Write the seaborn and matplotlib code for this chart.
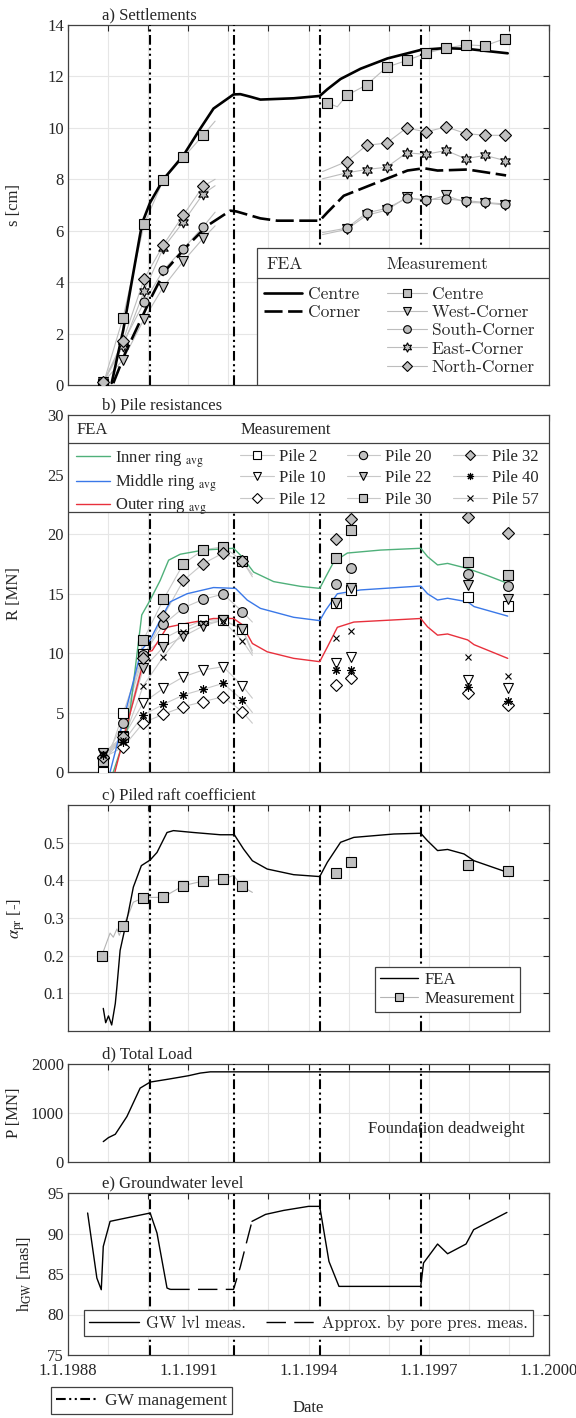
import numpy as np
import matplotlib.pyplot as plt
import matplotlib.patches as mpatches
from matplotlib.lines import Line2D
import seaborn as sns

sns.set_theme(style="whitegrid")
plt.rcParams["font.family"] = ["Liberation Serif", "DejaVu Serif"]
plt.rcParams["mathtext.fontset"] = "stix"
plt.rcParams["lines.scale_dashes"] = False

YEARS = np.arange(1988, 2001)
GW_MGMT = [1990.05, 1992.13, 1994.28, 1996.8]

# a) settlements - FEA
A_FEA_CENTRE_T = [1989.09, 1989.38, 1989.6, 1989.85, 1990.05, 1990.38, 1990.88, 1991.3, 1991.63,
                  1992.13, 1992.3, 1992.55, 1992.8, 1993.63, 1994.28, 1994.47, 1994.8, 1995.3,
                  1995.97, 1996.8, 1997.38, 1997.97, 1998.97]
A_FEA_CENTRE = [0.08, 2.15, 4.1, 6.3, 7.1, 8.0, 8.93, 9.97, 10.75, 11.3, 11.31, 11.21, 11.1, 11.15,
                11.24, 11.5, 11.9, 12.3, 12.7, 13.03, 13.1, 13.07, 12.9]
A_FEA_CORNER_T = [1989.13, 1989.43, 1990.09, 1990.4, 1990.97, 1991.47, 1992.05, 1992.2, 1992.8,
                  1993.22, 1994.28, 1994.47, 1994.88, 1995.72, 1996.47, 1996.88, 1997.22, 1997.97,
                  1998.93]
A_FEA_CORNER = [0.07, 1.25, 3.45, 4.4, 5.4, 6.19, 6.78, 6.75, 6.48, 6.39, 6.39, 6.71, 7.36, 7.88,
                8.34, 8.43, 8.34, 8.38, 8.15]

# a) settlements - measurements (first and second campaign)
A_T1 = [1988.88, 1989.37, 1989.9, 1990.38, 1990.88, 1991.37]
A_T1_END = 1991.67
A_CENTRE_1 = [0.04, 2.6, 6.26, 7.98, 8.85, 9.71]
A_WEST_1 = [0.1, 0.98, 2.57, 3.82, 4.82, 5.7]
A_SOUTH_1 = [0.1, 1.63, 3.22, 4.47, 5.3, 6.15]
A_EAST_1 = [0.1, 1.5, 3.65, 5.34, 6.35, 7.43]
A_NORTH_1 = [0.1, 1.7, 4.13, 5.45, 6.61, 7.73]
A_END_1 = [10.26, 6.19, 6.72, 7.75, 8.0]

A_T2_START = 1994.35
A_T2 = [1994.95, 1995.45, 1995.95, 1996.45, 1996.93, 1997.43, 1997.92, 1998.4, 1998.9]
A_CENTRE_2_T = [1994.45, 1994.95, 1995.45, 1995.95, 1996.45, 1996.93, 1997.43, 1997.92, 1998.4, 1998.9]
A_CENTRE_2 = [10.98, 11.26, 11.67, 12.36, 12.62, 12.9, 13.1, 13.23, 13.19, 13.47]
A_WEST_2 = [6.05, 6.6, 6.8, 7.3, 7.15, 7.37, 7.1, 7.08, 7.0]
A_SOUTH_2 = [6.1, 6.69, 6.87, 7.26, 7.21, 7.23, 7.17, 7.1, 7.04]
A_EAST_2 = [8.25, 8.38, 8.47, 9.03, 8.97, 9.12, 8.8, 8.93, 8.73]
A_NORTH_2 = [8.69, 9.32, 9.41, 10.0, 9.84, 10.04, 9.78, 9.71, 9.71]
A_START_2 = [5.85, 5.93, 8.02, 8.3]

# b) pile resistances - FEA ring averages
B_INNER_T = [1989.13, 1989.5, 1989.84, 1990.05, 1990.3, 1990.51, 1990.8, 1991.38, 1992.13, 1992.34,
             1992.63, 1993.13, 1993.8, 1994.28, 1994.43, 1994.63, 1994.97, 1995.8, 1996.8, 1996.97,
             1997.22, 1997.47, 1997.97, 1998.47, 1998.97]
B_INNER = [0.0, 3.8, 13.2, 14.45, 16.1, 17.8, 18.3, 18.65, 18.8, 18.1, 16.8, 16.0, 15.6, 15.43,
           16.4, 17.66, 18.4, 18.65, 18.8, 18.1, 17.4, 17.53, 17.1, 16.5, 15.85]
B_MIDDLE_T = [1989.05, 1989.83, 1990.05, 1990.3, 1990.55, 1990.97, 1991.63, 1992.18, 1992.47,
              1992.8, 1993.63, 1994.28, 1994.43, 1994.72, 1995.3, 1996.8, 1996.97, 1997.22, 1997.47,
              1997.97, 1998.13, 1998.97]
B_MIDDLE = [0.0, 10.25, 11.1, 12.77, 14.3, 14.98, 15.5, 15.43, 14.45, 13.75, 13.0, 12.72, 13.6,
            14.98, 15.3, 15.63, 14.98, 14.45, 14.6, 14.3, 13.9, 13.1]
B_OUTER_T = [1989.17, 1989.83, 1990.0, 1990.1, 1990.47, 1990.97, 1991.63, 1992.13, 1992.34, 1992.6,
             1992.97, 1993.63, 1994.28, 1994.47, 1994.72, 1995.13, 1996.8, 1996.97, 1997.22,
             1997.47, 1997.97, 1998.13, 1998.97]
B_OUTER = [0.0, 8.57, 10.1, 10.2, 12.16, 12.5, 12.9, 12.9, 12.4, 10.8, 10.1, 9.55, 9.27, 10.5,
           12.16, 12.6, 12.9, 12.2, 11.5, 11.6, 11.1, 10.7, 9.55]

# b) pile resistances - measured piles
B_T = [1988.88, 1989.38, 1989.88, 1990.38, 1990.88, 1991.37, 1991.87, 1992.35, 1994.68, 1995.05,
       1997.98, 1998.98]
B_T1_END = 1992.6
PILE_2 = [0.0, 4.98, 9.9, 11.2, 12.07, 12.77, 12.77, 12.0, 14.17, 15.3, 14.73, 13.95]
PILE_10 = [1.5, 2.9, 5.83, 7.03, 8.0, 8.57, 8.85, 7.25, 9.13, 9.69, 7.73, 7.03]
PILE_12 = [1.2, 2.1, 4.15, 4.85, 5.49, 5.91, 6.33, 5.07, 7.31, 7.87, 6.61, 5.63]
PILE_20 = [0.9, 4.09, 9.8, 12.4, 13.8, 14.5, 14.96, 13.47, 15.77, 17.17, 16.64, 15.63]
PILE_22 = [1.6, 3.0, 8.7, 10.5, 11.4, 12.27, 12.77, 12.0, 14.2, 15.5, 15.7, 14.5]
PILE_30 = [0.9, 2.9, 11.1, 14.5, 17.5, 18.66, 18.93, 17.76, 17.95, 20.3, 17.68, 16.55]
PILE_32 = [1.3, 2.9, 9.55, 13.1, 16.1, 17.5, 18.4, 17.7, 19.6, 21.3, 21.45, 20.06]
PILE_40 = [1.4, 2.55, 4.79, 5.69, 6.47, 6.95, 7.45, 6.05, 8.6, 8.6, 7.17, 6.0]
PILE_57 = [1.5, 2.7, 7.25, 9.7, 11.8, 12.5, 12.7, 11.03, 11.3, 11.88, 9.64, 8.1]
PILE_END = [10.0, 6.2, 4.1, 12.6, 10.2, 16.4, 16.6, 5.0, 9.8]

# c) piled raft coefficient
C_FEA_T = [1988.88, 1988.94, 1989.01, 1989.09, 1989.18, 1989.22, 1989.3, 1989.5, 1989.63, 1989.83,
           1990.05, 1990.22, 1990.47, 1990.63, 1991.13, 1991.8, 1992.15, 1992.38, 1992.6, 1992.97,
           1993.63, 1994.28, 1994.47, 1994.8, 1995.13, 1996.13, 1996.8, 1996.97, 1997.22, 1997.47,
           1997.88, 1998.13, 1998.97]
C_FEA = [0.060, 0.022, 0.040, 0.016, 0.073, 0.117, 0.214, 0.311, 0.382, 0.439, 0.454, 0.474, 0.527,
         0.532, 0.527, 0.521, 0.521, 0.483, 0.452, 0.430, 0.415, 0.410, 0.448, 0.501, 0.514, 0.523,
         0.525, 0.505, 0.479, 0.482, 0.470, 0.452, 0.421]
C_MEAS_T = [1988.84, 1989.37, 1989.87, 1990.37, 1990.88, 1991.36, 1991.86, 1992.34, 1994.68,
            1995.05, 1997.98, 1998.98]
C_MEAS = [0.199, 0.278, 0.353, 0.355, 0.386, 0.398, 0.403, 0.384, 0.419, 0.449, 0.441, 0.424]
C_LINE_T = [1988.84, 1989.05, 1989.13, 1989.22, 1989.28, 1989.37, 1989.5, 1989.63, 1989.87,
            1990.05, 1990.37, 1990.88, 1991.36, 1991.86, 1992.13, 1992.34, 1992.6]
C_LINE = [0.199, 0.26, 0.249, 0.271, 0.254, 0.278, 0.307, 0.342, 0.353, 0.3545, 0.355, 0.386,
          0.398, 0.403, 0.413, 0.384, 0.368]

# d) total load
D_T = [1988.88, 1989.01, 1989.18, 1989.47, 1989.8, 1990.05, 1990.5, 1991.0, 1991.3, 1991.55, 2000.0]
D_LOAD = [416, 498, 566, 928, 1508, 1631, 1690, 1760, 1815, 1840, 1840]

# e) groundwater level
E_MEAS1_T = [1988.49, 1988.72, 1988.83, 1988.88, 1989.05, 1990.05, 1990.22, 1990.47, 1990.55]
E_MEAS1 = [92.53, 84.5, 83.06, 88.4, 91.5, 92.53, 90.06, 83.27, 83.1]
E_APPROX_T = [1990.55, 1992.13, 1992.3, 1992.47, 1992.59]
E_APPROX = [83.1, 83.1, 85.9, 89.2, 91.5]
E_MEAS2_T = [1992.59, 1992.93, 1993.38, 1994.0, 1994.28, 1994.51, 1994.76, 1996.8, 1996.87,
             1997.22, 1997.47, 1997.93, 1998.12, 1998.95]
E_MEAS2 = [91.5, 92.36, 92.85, 93.35, 93.35, 86.56, 83.47, 83.47, 86.36, 88.7, 87.5, 88.7, 90.47,
           92.6]

GW_LS = (0, (7, 2.5, 1.5, 2.5, 1.5, 2.5))
DASH = (0, (13, 4))
EDGE = "#404040"
GREY_FILL = "#c0c0c0"
GREY_LINE = "#bdbdbd"
CM_FONT = {"family": "cmr10", "size": 12.5}
CM_FONT_E = {"family": "cmr10", "size": 12}

W, H = 576, 1418
fig = plt.figure(figsize=(W / 100, H / 100), dpi=100)


def add_axes(top, bottom):
    return fig.add_axes([68 / W, 1 - bottom / H, 481 / W, (bottom - top) / H])


def line(ax, x, y, **kw):
    sns.lineplot(x=np.asarray(x, float), y=np.asarray(y, float), ax=ax,
                 estimator=None, sort=False, **kw)


def style_axes(ax, ylim, yticks, title, ylabel, label_x=-0.095):
    ax.set_xlim(1988, 2000)
    ax.set_ylim(*ylim)
    ax.set_xticks(YEARS)
    ax.set_xticklabels([])
    ax.set_yticks(yticks)
    ax.set_axisbelow(True)
    ax.grid(True, color="#e6e6e6", lw=0.8)
    ax.tick_params(direction="in", top=True, right=True, length=4, width=0.8,
                   color="#262626", labelcolor="#262626", labelsize=12, pad=3)
    for sp in ax.spines.values():
        sp.set_visible(True)
        sp.set_color(EDGE)
        sp.set_linewidth(0.9)
    ax.annotate(title, xy=(0.07, 1), xycoords="axes fraction", xytext=(0, 1.5),
                textcoords="offset points", ha="left", va="bottom", fontsize=12)
    ax.set_ylabel(ylabel, fontsize=12, color="#262626")
    ax.yaxis.set_label_coords(label_x, 0.5)
    for x in GW_MGMT:
        ax.axvline(x, color="black", lw=1.5, linestyle=GW_LS, zorder=3)


# ---------------- a) Settlements ----------------
ax = add_axes(25, 385)
meas_a = [
    ("Centre", "s", 6.5, A_CENTRE_1, A_END_1[0]),
    ("West-Corner", "v", 7, A_WEST_1, A_END_1[1]),
    ("South-Corner", "o", 6.5, A_SOUTH_1, A_END_1[2]),
    ("East-Corner", (6, 1, 0), 8, A_EAST_1, A_END_1[3]),
    ("North-Corner", "D", 6, A_NORTH_1, A_END_1[4]),
]
second_a = [A_WEST_2, A_SOUTH_2, A_EAST_2, A_NORTH_2]
for (name, mk, ms, vals, end) in meas_a:
    line(ax, A_T1 + [A_T1_END], vals + [end], color=GREY_LINE, lw=0.8, zorder=2)
line(ax, [A_CENTRE_2_T[0], 1994.72] + A_CENTRE_2_T[1:],
     [A_CENTRE_2[0], 10.82] + A_CENTRE_2[1:], color=GREY_LINE, lw=0.8, zorder=2)
for vals, start in zip(second_a, A_START_2):
    line(ax, [A_T2_START] + A_T2, [start] + vals, color=GREY_LINE, lw=0.8, zorder=2)
line(ax, A_FEA_CENTRE_T, A_FEA_CENTRE, color="black", lw=1.9, zorder=4)
line(ax, A_FEA_CORNER_T, A_FEA_CORNER, color="black", lw=1.9, linestyle=DASH, zorder=4)
for i, (name, mk, ms, vals, end) in enumerate(meas_a):
    kw = dict(ls="none", marker=mk, ms=ms, mfc=GREY_FILL, mec="black", mew=0.8, zorder=5)
    ax.plot(A_T1, vals, **kw)
    if i == 0:
        ax.plot(A_CENTRE_2_T, A_CENTRE_2, **kw)
    else:
        ax.plot(A_T2, second_a[i - 1], **kw)
style_axes(ax, (0, 14), np.arange(0, 15, 2), "a) Settlements", "s [cm]")

# legend box with header row
ax.add_patch(mpatches.Rectangle((0.392, 0), 0.608, 0.381, transform=ax.transAxes,
                                facecolor="white", edgecolor=EDGE, lw=0.9, zorder=6))
ax.plot([0.392, 1], [0.298, 0.298], transform=ax.transAxes, color=EDGE, lw=0.9, zorder=7)
ax.text(0.413, 0.334, "FEA", transform=ax.transAxes, va="center", fontdict=CM_FONT, zorder=7)
ax.text(0.662, 0.334, "Measurement", transform=ax.transAxes, va="center", fontdict=CM_FONT,
        zorder=7)
fea_handles = [Line2D([], [], color="black", lw=1.9),
               Line2D([], [], color="black", lw=1.9, linestyle=DASH)]
leg1 = ax.legend(fea_handles, ["Centre", "Corner"], loc="upper left",
                 bbox_to_anchor=(0.4075, 0.274), frameon=False, borderpad=0, borderaxespad=0,
                 handlelength=2.2, handletextpad=0.35, labelspacing=0.17, prop=CM_FONT)
leg1.set_zorder(8)
ax.add_artist(leg1)
meas_handles = [Line2D([], [], color=GREY_LINE, lw=0.8, marker=mk, ms=ms * 0.85, mfc=GREY_FILL,
                       mec="black", mew=0.8) for (_, mk, ms, _, _) in meas_a]
leg2 = ax.legend(meas_handles, [m[0] for m in meas_a], loc="upper left",
                 bbox_to_anchor=(0.6626, 0.274), frameon=False, borderpad=0, borderaxespad=0,
                 handlelength=2.3, handletextpad=0.3, labelspacing=0.17, prop=CM_FONT)
leg2.set_zorder(8)

# ---------------- b) Pile resistances ----------------
ax = add_axes(415, 772)
rings = [("Inner ring $_{\\rm avg}$", B_INNER_T, B_INNER, "#4fb07a"),
         ("Middle ring $_{\\rm avg}$", B_MIDDLE_T, B_MIDDLE, "#3a78e8"),
         ("Outer ring $_{\\rm avg}$", B_OUTER_T, B_OUTER, "#e8303c")]
piles = [("Pile 2", PILE_2, "s", "white", "black", 7),
         ("Pile 10", PILE_10, "v", "white", "black", 7.5),
         ("Pile 12", PILE_12, "D", "white", "black", 6.3),
         ("Pile 20", PILE_20, "o", GREY_FILL, "black", 7),
         ("Pile 22", PILE_22, "v", GREY_FILL, "black", 7.5),
         ("Pile 30", PILE_30, "s", GREY_FILL, "black", 7),
         ("Pile 32", PILE_32, "D", GREY_FILL, "black", 6.3),
         ("Pile 40", PILE_40, (8, 2, 0), "black", "black", 6),
         ("Pile 57", PILE_57, "x", "black", "black", 5)]
for (name, vals, mk, fc, ec, ms), end in zip(piles, PILE_END):
    line(ax, B_T[:8] + [B_T1_END], vals[:8] + [end], color="#c8c8c8", lw=0.8, zorder=2)
for name, t, v, col in rings:
    line(ax, t, v, color=col, lw=1.0, zorder=4)
for name, vals, mk, fc, ec, ms in piles:
    ax.plot(B_T, vals, ls="none", marker=mk, ms=ms, mfc=fc, mec=ec, mew=0.8, zorder=5)
style_axes(ax, (0, 30), np.arange(0, 31, 5), "b) Pile resistances", "R [MN]")

ax.add_patch(mpatches.Rectangle((0, 0.729), 1, 0.271, transform=ax.transAxes,
                                facecolor="white", edgecolor=EDGE, lw=0.9, zorder=6))
ax.plot([0, 1], [0.921, 0.921], transform=ax.transAxes, color=EDGE, lw=0.9, zorder=7)
ax.text(0.017, 0.958, "FEA", transform=ax.transAxes, va="center", fontsize=12, zorder=7)
ax.text(0.358, 0.958, "Measurement", transform=ax.transAxes, va="center", fontsize=12, zorder=7)
ring_handles = [Line2D([], [], color=r[3], lw=1.0) for r in rings]
leg1 = ax.legend(ring_handles, [r[0] for r in rings], loc="upper left",
                 bbox_to_anchor=(0.017, 0.905), frameon=False, borderpad=0, borderaxespad=0,
                 handlelength=2.0, handletextpad=0.3, labelspacing=0.17, fontsize=12)
leg1.set_zorder(8)
ax.add_artist(leg1)
pile_handles = [Line2D([], [], color="#c8c8c8", lw=0.8, marker=p[2], ms=p[5] * 0.85, mfc=p[3],
                       mec=p[4], mew=0.8) for p in piles]
leg2 = ax.legend(pile_handles, [p[0] for p in piles], loc="upper left", ncol=3,
                 bbox_to_anchor=(0.358, 0.905), frameon=False, borderpad=0, borderaxespad=0,
                 handlelength=2.0, handletextpad=0.3, labelspacing=0.32, columnspacing=1.3,
                 fontsize=12)
leg2.set_zorder(8)

# ---------------- c) Piled raft coefficient ----------------
ax = add_axes(805, 1031)
line(ax, C_LINE_T, C_LINE, color="#b4b4b4", lw=0.8, zorder=2)
line(ax, C_FEA_T, C_FEA, color="black", lw=1.0, zorder=4)
ax.plot(C_MEAS_T, C_MEAS, ls="none", marker="s", ms=7, mfc=GREY_FILL, mec="black", mew=0.8,
        zorder=5)
style_axes(ax, (0, 0.6), np.arange(0.1, 0.51, 0.1), "c) Piled raft coefficient",
           "$\\alpha_{\\rm pr}$ [-]", label_x=-0.085)
ax.set_yticklabels(["0.1", "0.2", "0.3", "0.4", "0.5"])
c_handles = [Line2D([], [], color="black", lw=1.0),
             Line2D([], [], color="#b4b4b4", lw=0.8, marker="s", ms=6, mfc=GREY_FILL,
                    mec="black", mew=0.8)]
leg = ax.legend(c_handles, ["FEA", "Measurement"], loc="lower right",
                bbox_to_anchor=(0.94, 0.084), borderaxespad=0, fancybox=False, framealpha=1,
                edgecolor=EDGE, fontsize=12, handlelength=2.3, handletextpad=0.4,
                labelspacing=0.2, borderpad=0.3)
leg.get_frame().set_linewidth(0.9)
leg.set_zorder(8)

# ---------------- d) Total Load ----------------
ax = add_axes(1064, 1162)
line(ax, D_T, D_LOAD, color="black", lw=1.0, zorder=4)
style_axes(ax, (0, 2000), [0, 1000, 2000], "d) Total Load", "P [MN]")
ax.text(0.787, 0.335, "Foundation deadweight", transform=ax.transAxes, ha="center", va="center",
        fontsize=12)

# ---------------- e) Groundwater level ----------------
ax = add_axes(1193, 1355)
line(ax, E_MEAS1_T, E_MEAS1, color="black", lw=1.0, zorder=4)
line(ax, E_MEAS2_T, E_MEAS2, color="black", lw=1.0, zorder=4)
line(ax, E_APPROX_T, E_APPROX, color="black", lw=1.0, linestyle=(0, (14, 6)), zorder=4)
style_axes(ax, (75, 95), np.arange(75, 96, 5), "e) Groundwater level", "h$_{\\rm GW}$ [masl]",
           label_x=-0.07)
ax.set_xticklabels(["1.1.%d" % y if (y - 1988) % 3 == 0 else "" for y in YEARS])
ax.tick_params(axis="x", pad=6)
ax.set_xlabel("Date", fontsize=12, color="#262626", labelpad=15)
e_handles = [Line2D([], [], color="black", lw=1.0),
             Line2D([], [], color="black", lw=1.0, linestyle=(0, (14, 6)))]
leg = ax.legend(e_handles, ["GW lvl meas.", "Approx. by pore pres. meas."], loc="lower center",
                bbox_to_anchor=(0.5, 0.118), ncol=2, borderaxespad=0, fancybox=False,
                framealpha=1, edgecolor=EDGE, prop=CM_FONT_E, handlelength=3.0,
                handletextpad=0.4, columnspacing=1.2, borderpad=0.3)
leg.get_frame().set_linewidth(0.9)
leg.set_zorder(8)

# GW management legend below the panels
gw_leg = fig.legend([Line2D([], [], color="black", lw=1.5, linestyle=GW_LS)], ["GW management"],
                    loc="lower left", bbox_to_anchor=(51 / W, 4 / H),
                    bbox_transform=fig.transFigure, fancybox=False, framealpha=1,
                    edgecolor=EDGE, fontsize=12.5, handlelength=2.4, handletextpad=0.4,
                    borderpad=0.3, borderaxespad=0)
gw_leg.get_frame().set_linewidth(0.9)

fig.savefig("out.png", dpi=100)
